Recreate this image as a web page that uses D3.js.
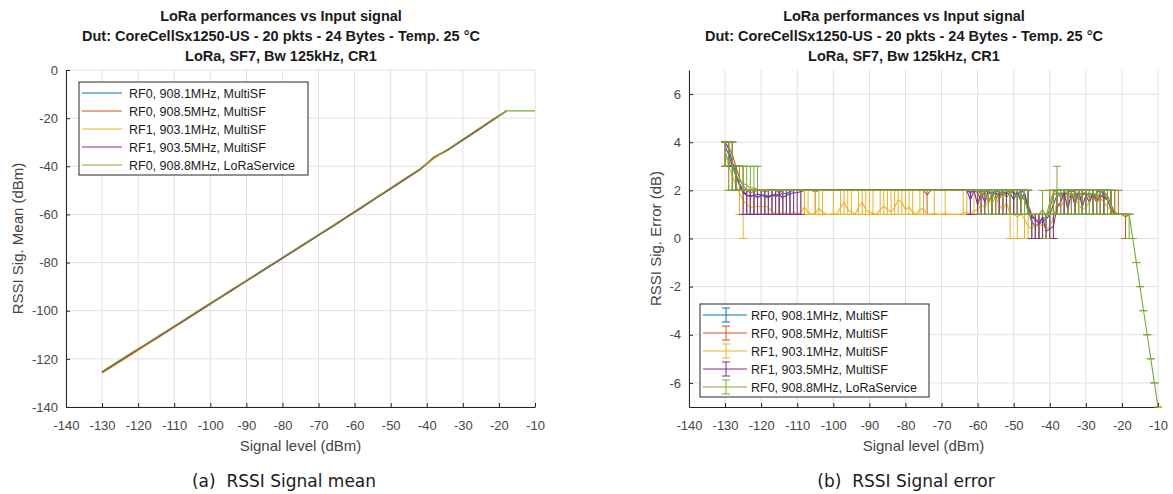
<!DOCTYPE html>
<html>
<head>
<meta charset="utf-8">
<script src="https://cdn.jsdelivr.net/npm/d3@7"></script>
<style>
body { margin: 0; background: #fff; }
svg { display: block; }
text { font-family: "Liberation Sans", Arial, sans-serif; }
</style>
</head>
<body>
<svg id="fig" width="1173" height="494"></svg>
<script>
// ---- data ----
const seriesNames = ["RF0, 908.1MHz, MultiSF", "RF0, 908.5MHz, MultiSF", "RF1, 903.1MHz, MultiSF",
                     "RF1, 903.5MHz, MultiSF", "RF0, 908.8MHz, LoRaService"];
const titleLines = ["LoRa performances vs Input signal",
                    "Dut: CoreCellSx1250-US - 20 pkts - 24 Bytes - Temp. 25 \u00B0C",
                    "LoRa, SF7, Bw 125kHz, CR1"];
const xTicks = [-140,-130,-120,-110,-100,-90,-80,-70,-60,-50,-40,-30,-20,-10];
const meanTicks = [-140,-120,-100,-80,-60,-40,-20,0];
const errTicks = [-6,-4,-2,0,2,4,6];

// (a) RSSI mean, sampled every 4 dB
const meanLevels = [-130,-126,-122,-118,-114,-110,-106,-102,-98,-94,-90,-86,-82,-78,-74,-70,-66,-62,-58,-54,-50,-46,-42,-38,-34,-30,-26,-22,-18,-14,-10];
const meanBlue   = [-125.5,-121.7,-117.9,-114.2,-110.4,-106.6,-102.8,-99.0,-95.2,-91.4,-87.6,-83.8,-80.0,-76.2,-72.4,-68.6,-64.8,-60.9,-57.0,-53.1,-49.2,-45.3,-41.4,-36.3,-32.9,-29.0,-25.0,-21.0,-17.0];
const meanOrange = [-125.3,-121.5,-118.1,-114.0,-110.5,-106.4,-102.9,-98.8,-95.3,-91.2,-87.7,-83.6,-80.1,-76.0,-72.5,-68.4,-64.9,-60.7,-57.2,-52.9,-49.4,-45.1,-41.6,-36.0,-33.1,-28.8,-25.2,-20.8,-17.1];
const meanYellow = [-126.0,-122.3,-118.5,-114.6,-110.8,-107.0,-103.1,-99.3,-95.5,-91.7,-87.8,-84.0,-80.2,-76.4,-72.6,-68.8,-65.0,-61.1,-57.2,-53.3,-49.5,-45.6,-41.7,-36.8,-33.3,-29.3,-25.4,-21.3,-17.3];
const meanPurple = [-125.6,-121.8,-118.0,-114.3,-110.5,-106.7,-102.9,-99.1,-95.3,-91.5,-87.7,-83.9,-80.1,-76.3,-72.5,-68.7,-64.9,-61.0,-57.1,-53.2,-49.3,-45.4,-41.5,-36.4,-33.0,-29.1,-25.1,-21.1,-17.1];
const meanGreen  = [-125.2,-121.4,-117.6,-113.9,-110.1,-106.3,-102.5,-98.7,-94.9,-91.1,-87.3,-83.5,-79.7,-75.9,-72.1,-68.3,-64.5,-60.6,-56.7,-52.8,-48.9,-45.0,-41.1,-36.5,-32.7,-28.7,-24.7,-20.8,-17.0,-17.0,-17.0];

// (b) RSSI error, every 1 dB from -130
const errLevels = [-130,-129,-128,-127,-126,-125,-124,-123,-122,-121,-120,-119,-118,-117,-116,-115,-114,-113,-112,-111,
  -110,-109,-108,-107,-106,-105,-104,-103,-102,-101,-100,-99,-98,-97,-96,-95,-94,-93,-92,-91,
  -90,-89,-88,-87,-86,-85,-84,-83,-82,-81,-80,-79,-78,-77,-76,-75,-74,-73,-72,-71,
  -70,-69,-68,-67,-66,-65,-64,-63,-62,-61,-60,-59,-58,-57,-56,-55,-54,-53,-52,-51,
  -50,-49,-48,-47,-46,-45,-44,-43,-42,-41,-40,-39,-38,-37,-36,-35,-34,-33,-32,-31,
  -30,-29,-28,-27,-26,-25,-24,-23,-22,-21,-20,-19,-18,-17,-16,-15,-14,-13,-12,-11,-10];

const errBlue = [4,3.7,3.2,2.7,2.3,2,1.8,1.75,1.8,1.85, 1.8,1.8,1.75,1.8,1.85,1.8,1.9,1.85,1.95,2,
  2,2,2,2,2,2,2,2,2,2, 2,2,2,2,2,2,2,2,2,2, 2,2,2,2,2,2,2,2,2,2, 2,2,2,2,2,2,2,2,2,2,
  2,2,2,2,2,2,2,2,1.9,2, 2,1.95,2,1.9,1.85,2,1.9,1.95,1.85,1.9, 1.6,1.95,1.55,1.9,1.2,0.7,0.5,0.6,0.7,0.8,
  1,1.4,1.8,1.9,1.8,1.9,2,1.9,1.8,1.9, 1.8,1.9,1.7,1.9,2,1.8,1.6,1.2,1,1, 1,1,1];
const errBlueLo = [4,3,3,2,2,2,1,1,1,1, 1,1,1,1,1,1,1,1,1,2,
  2,2,2,2,2,2,2,2,2,2, 2,2,2,2,2,2,2,2,2,2, 2,2,2,2,2,2,2,2,2,2, 2,2,2,2,2,2,2,2,2,2,
  2,2,2,2,2,2,2,2,1,2, 2,1,2,1,1,2,1,1,1,1, 1,1,1,1,1,0,0,0,0,0,
  0,1,1,1,1,1,2,1,1,1, 1,1,1,1,2,1,1,1,1,1, 1,1,1];
const errBlueHi = [4,4,4,3,3,2,2,2,2,2, 2,2,2,2,2,2,2,2,2,2,
  2,2,2,2,2,2,2,2,2,2, 2,2,2,2,2,2,2,2,2,2, 2,2,2,2,2,2,2,2,2,2, 2,2,2,2,2,2,2,2,2,2,
  2,2,2,2,2,2,2,2,2,2, 2,2,2,2,2,2,2,2,2,2, 2,2,2,2,2,1,1,1,1,1,
  1,2,2,2,2,2,2,2,2,2, 2,2,2,2,2,2,2,2,1,1, 1,1,1];

const errOrange = [4,3.8,3.5,3,2.5,2.2,2,1.9,1.95,2, 2,1.95,2,2,2,1.9,2,2,2,2,
  2,2,2,2,2,1.95,2,2,2,2, 2,2,2,2,2,2,2,2,2,2, 2,2,2,2,2,2,2,2,2,2, 2,2,2,2,2,2,1.8,2,2,2,
  2,2,2,2,2,2,2,2,2,2, 1.9,1.6,2,1.5,1.8,1.9,1.6,2,1.7,1.9, 1.9,1.7,1.8,1.6,1.4,1,0.8,0.7,0.8,0.9,
  1.2,1.8,1.9,1.7,1.9,1.8,1.7,1.9,1.6,1.8, 1.9,1.7,1.8,1.5,1.7,1.9,1.8,1.4,1.1,1, 1,0.9,1];
const errOrangeLo = [4,3,3,2,2,2,2,1,1,2, 2,1,2,2,2,1,2,2,2,2,
  2,2,2,2,2,1,2,2,2,2, 2,2,2,2,2,2,2,2,2,2, 2,2,2,2,2,2,2,2,2,2, 2,2,2,2,2,2,1,2,2,2,
  2,2,2,2,2,2,2,2,2,2, 1,1,2,1,1,1,1,2,1,1, 1,1,1,1,1,1,0,0,0,0,
  1,1,1,1,1,1,1,1,1,1, 1,1,1,1,1,1,1,1,1,1, 1,0,1];
const errOrangeHi = [4,4,4,3,3,3,2,2,2,2, 2,2,2,2,2,2,2,2,2,2,
  2,2,2,2,2,2,2,2,2,2, 2,2,2,2,2,2,2,2,2,2, 2,2,2,2,2,2,2,2,2,2, 2,2,2,2,2,2,2,2,2,2,
  2,2,2,2,2,2,2,2,2,2, 2,2,2,2,2,2,2,2,2,2, 2,2,2,2,2,1,1,1,1,1,
  2,2,2,2,2,2,2,2,2,2, 2,2,2,2,2,2,2,2,2,2, 1,1,1];

const errYellow = [3.5,3,2.6,2.2,1.9,1.6,1.4,1.3,1.3,1.35, 1.3,1.35,1.3,1.1,1.05,1,1.1,1.05,1,1.1,
  1,1.1,1.3,1.1,1,1.05,1.25,1.1,1,1, 1.05,1,1.3,1.5,1.2,1.1,1,1.3,1.5,1.2, 1.1,1.05,1,1.2,1.35,1.2,1.1,1.3,1.6,1.5,
  1.2,1.3,1.1,1,1.2,1.25,1,1,1.05,1, 1,1.05,1,1,1,1,1.05,1.1,1,1.15, 1.2,1.4,1.3,1.6,1.5,1.7,1.4,1.2,1.5,1,
  1,0.9,1,0.8,0.5,0.4,0.6,0.5,0.6,0.4, 0.5,0.9,1.5,1.3,1.6,1.8,1.9,1.7,1.4,1.2, 1.3,1.5,1.8,1.9,1.7,1.5,1.3,1.2,1,1, 1,1,1];
const errYellowLo = [3,2,2,2,1,0,1,1,1,1, 1,1,1,1,1,1,1,1,1,1,
  1,1,1,1,1,1,1,1,1,1, 1,1,1,1,1,1,1,1,1,1, 1,1,1,1,1,1,1,1,1,1, 1,1,1,1,1,1,1,1,1,1,
  1,1,1,1,1,1,1,1,1,1, 1,1,1,1,1,1,1,1,1,0, 1,0,1,0,0,0,0,0,0,0,
  0,0,1,1,1,1,1,1,1,1, 1,1,1,1,1,1,1,1,1,1, 1,1,1];
const errYellowHi = [4,4,3,3,2,2,2,2,2,2, 2,2,2,2,2,1,2,2,1,2,
  1,2,2,2,1,2,2,2,1,1, 2,1,2,2,2,2,1,2,2,2, 2,2,1,2,2,2,2,2,2,2, 2,2,2,1,2,2,1,1,2,1,
  1,2,1,1,1,1,2,2,1,2, 2,2,2,2,2,2,2,2,2,2, 1,1,1,1,1,1,1,1,1,1,
  1,1,2,2,2,2,2,2,2,2, 2,2,2,2,2,2,2,2,1,1, 1,1,1];

const errPurple = [3.8,3.5,3,2.6,2.2,1.9,1.8,1.75,1.8,1.7, 1.8,1.75,1.7,1.8,1.75,1.8,1.7,1.8,1.85,1.9,
  1.9,1.95,2,2,2,2,2,2,2,2, 2,2,2,2,2,2,2,2,2,2, 2,2,2,2,2,2,2,2,2,2, 2,2,2,2,2,2,2,2,2,2,
  2,2,2,2,2,2,2,2,1.6,2, 1.4,1.9,1.5,2,1.8,1.9,1.8,1.9,1.9,2, 1.9,1.8,2,1.9,1.3,0.9,0.8,0.6,0.9,0.3,
  0.4,0.5,1.3,1.5,1.9,1.2,1.9,1.4,2,1.3, 1.8,1.5,1.9,1.6,1.8,1.7,1.6,1.3,1,1, 1,1,1];
const errPurpleLo = [3,3,2,2,2,1,1,1,1,1, 1,1,1,1,1,1,1,1,1,1,
  1,1,2,2,2,2,2,2,2,2, 2,2,2,2,2,2,2,2,2,2, 2,2,2,2,2,2,2,2,2,2, 2,2,2,2,2,2,2,2,2,2,
  2,2,2,2,2,2,2,2,1,2, 1,1,1,2,1,1,1,1,1,2, 1,1,2,1,1,0,0,0,0,0,
  0,0,1,1,1,1,1,1,2,1, 1,1,1,1,1,1,1,1,1,1, 1,1,1];
const errPurpleHi = [4,4,3,3,3,2,2,2,2,2, 2,2,2,2,2,2,2,2,2,2,
  2,2,2,2,2,2,2,2,2,2, 2,2,2,2,2,2,2,2,2,2, 2,2,2,2,2,2,2,2,2,2, 2,2,2,2,2,2,2,2,2,2,
  2,2,2,2,2,2,2,2,2,2, 2,2,2,2,2,2,2,2,2,2, 2,2,2,2,2,1,1,1,1,1,
  1,1,2,2,2,2,2,2,2,2, 2,2,2,2,2,2,2,2,1,1, 1,1,1];

const errGreen = [3.6,3.2,3,2.6,2.4,2.3,2.2,2.1,2.1,2.05, 2,2,2,2,2,2,2,2,2,2,
  2,2,2,2,2,2,2,2,2,2, 2,2,2,2,2,2,2,2,2,2, 2,2,2,2,2,2,2,2,2,2, 2,2,2,2,2,2,2,2,2,2,
  2,2,2,2,2,2,2,2,2,2, 2,1.8,2,1.5,1.9,1.6,2,1.7,2,1.9, 2,1.7,1.9,1.6,1.1,1,1,1,1.2,0.9,
  1.5,1.9,2,1.7,2,1.8,1.9,1.6,1.8,1.9, 1.9,1.8,1.9,1.7,1.9,2,1.6,1.3,1.1,1, 1,1,1,0,-1,-2,-3,-4,-5,-6,-7];
const errGreenLo = [3,2,2,2,2,2,2,2,2,2, 2,2,2,2,2,2,2,2,2,2,
  2,2,2,2,2,2,2,2,2,2, 2,2,2,2,2,2,2,2,2,2, 2,2,2,2,2,2,2,2,2,2, 2,2,2,2,2,2,2,2,2,2,
  2,2,2,2,2,2,2,2,2,2, 2,1,2,1,1,1,2,1,2,1, 2,1,1,1,1,1,1,1,1,0,
  1,1,1,1,2,1,1,1,1,1, 1,1,1,1,1,2,1,1,1,1, 1,1,0,0,-1,-2,-3,-4,-5,-6,-7];
const errGreenHi = [4,4,4,3,3,3,3,3,3,3, 2,2,2,2,2,2,2,2,2,2,
  2,2,2,2,2,2,2,2,2,2, 2,2,2,2,2,2,2,2,2,2, 2,2,2,2,2,2,2,2,2,2, 2,2,2,2,2,2,2,2,2,2,
  2,2,2,2,2,2,2,2,2,2, 2,2,2,2,2,2,2,2,2,2, 2,2,2,2,2,1,1,1,2,1,
  2,2,3,2,2,2,2,2,2,2, 2,2,2,2,2,2,2,2,2,1, 1,1,1,0,-1,-2,-3,-4,-5,-6,-7];

const colors = ["#0072BD", "#D95319", "#EDB120", "#7E2F8E", "#77AC30"];

// ---- layout ----
const svg = d3.select("#fig");
const plotTop = 70, plotBottom = 407;

const xA = d3.scaleLinear().domain([-140, -10]).range([66, 535]);
const yA = d3.scaleLinear().domain([-140, 0]).range([plotBottom, plotTop]);
const xB = d3.scaleLinear().domain([-140, -10]).range([689, 1158]);
const yB = d3.scaleLinear().domain([-7, 7]).range([plotBottom, plotTop]);

function frame(x, y, yTicks, yLabel, labelGap, cx, capX, caption) {
  const g = svg.append("g");
  // grid
  g.append("g").selectAll("line").data(xTicks).join("line")
    .attr("x1", d => x(d)).attr("x2", d => x(d)).attr("y1", y.range()[0]).attr("y2", y.range()[1])
    .attr("stroke", "#e0e0e0");
  g.append("g").selectAll("line").data(yTicks).join("line")
    .attr("x1", x.range()[0]).attr("x2", x.range()[1]).attr("y1", d => y(d)).attr("y2", d => y(d))
    .attr("stroke", "#e0e0e0");

  const ax = g.append("g").attr("transform", `translate(0,${plotBottom})`)
    .call(d3.axisBottom(x).tickValues(xTicks).tickFormat(d => String(d)).tickSizeInner(-4).tickSizeOuter(0).tickPadding(14));
  const ay = g.append("g").attr("transform", `translate(${x.range()[0]},0)`)
    .call(d3.axisLeft(y).tickValues(yTicks).tickFormat(d => String(d)).tickSizeInner(-4).tickSizeOuter(0).tickPadding(8));
  [ax, ay].forEach(a => {
    a.select(".domain").attr("stroke", "#262626");
    a.selectAll(".tick line").attr("stroke", "#262626");
    a.selectAll(".tick text").attr("fill", "#454545").style("font-size", "13px")
      .style("font-family", '"Liberation Sans", Arial, sans-serif');
  });

  g.append("text").attr("x", (x.range()[0] + x.range()[1]) / 2).attr("y", 451)
    .attr("text-anchor", "middle").attr("fill", "#454545").style("font-size", "15px").text("Signal level (dBm)");
  const midY = (y.range()[0] + y.range()[1]) / 2;
  g.append("text").attr("transform", `translate(${x.range()[0] - labelGap},${midY}) rotate(-90)`)
    .attr("text-anchor", "middle").attr("fill", "#454545").style("font-size", "15px").text(yLabel);

  titleLines.forEach((t, i) => {
    g.append("text").attr("x", cx).attr("y", 21 + i * 20).attr("text-anchor", "middle")
      .attr("fill", "#1a1a1a").style("font-size", "14.5px").style("font-weight", "bold").text(t);
  });

  g.append("text").attr("x", capX).attr("y", 487).attr("text-anchor", "middle")
    .attr("fill", "#1a1a1a").style("font-size", "17px")
    .style("font-family", '"DejaVu Sans", sans-serif')
    .style("white-space", "pre").text(caption);
}

frame(xA, yA, meanTicks, "RSSI Sig. Mean (dBm)", 43, 281, 284, "(a)  RSSI Signal mean");
frame(xB, yB, errTicks, "RSSI Sig. Error (dB)", 28, 904, 906, "(b)  RSSI Signal error");

// ---- (a) lines ----
const meanSeries = [meanBlue, meanOrange, meanYellow, meanPurple, meanGreen];
const lineA = d3.line().x(d => xA(d[0])).y(d => yA(d[1]));
meanSeries.forEach((vals, k) => {
  const pts = vals.map((v, i) => [meanLevels[i], v]);
  svg.append("path").datum(pts).attr("d", lineA)
    .attr("fill", "none").attr("stroke", colors[k]).attr("stroke-width", 1.1);
});

// ---- (b) error bars ----
const errSeries = [
  [errBlue, errBlueLo, errBlueHi],
  [errOrange, errOrangeLo, errOrangeHi],
  [errYellow, errYellowLo, errYellowHi],
  [errPurple, errPurpleLo, errPurpleHi],
  [errGreen, errGreenLo, errGreenHi]
];
const lineB = d3.line().x(d => xB(d.x)).y(d => yB(d.m));
const cap = 4;
errSeries.forEach(([m, lo, hi], k) => {
  const pts = m.map((v, i) => ({ x: errLevels[i], m: v, lo: lo[i], hi: hi[i] }));
  const g = svg.append("g").attr("stroke", colors[k]).attr("fill", "none").attr("stroke-width", 1);
  g.selectAll("path.bar").data(pts).join("path").attr("class", "bar")
    .attr("d", d => {
      const px = xB(d.x), a = yB(d.lo), b = yB(d.hi);
      return `M${px},${a}V${b}M${px - cap},${a}H${px + cap}M${px - cap},${b}H${px + cap}`;
    });
  g.append("path").datum(pts).attr("d", lineB).attr("stroke-width", 1.1);
});

// ---- legends ----
function legend(x0, y0, w, errStyle) {
  const g = svg.append("g");
  g.append("rect").attr("x", x0).attr("y", y0).attr("width", w).attr("height", 93)
    .attr("fill", "#fff").attr("stroke", "#262626").attr("stroke-width", 1);
  seriesNames.forEach((name, i) => {
    const yy = y0 + 11 + i * 18;
    if (errStyle) {
      g.append("line").attr("x1", x0 + 3).attr("x2", x0 + 47).attr("y1", yy).attr("y2", yy)
        .attr("stroke", colors[i]);
      g.append("path").attr("d", `M${x0 + 26},${yy - 7}V${yy + 7}M${x0 + 22},${yy - 7}H${x0 + 30}M${x0 + 22},${yy + 7}H${x0 + 30}`)
        .attr("stroke", colors[i]).attr("fill", "none");
    } else {
      g.append("line").attr("x1", x0 + 3).attr("x2", x0 + 43).attr("y1", yy).attr("y2", yy)
        .attr("stroke", colors[i]).attr("stroke-width", 1.2);
    }
    g.append("text").attr("x", x0 + (errStyle ? 51 : 50)).attr("y", yy + 4.5)
      .attr("fill", "#1a1a1a").style("font-size", "12.5px").text(name);
  });
}
legend(79, 82, 229, false);
legend(700, 304, 229, true);
</script>
</body>
</html>
